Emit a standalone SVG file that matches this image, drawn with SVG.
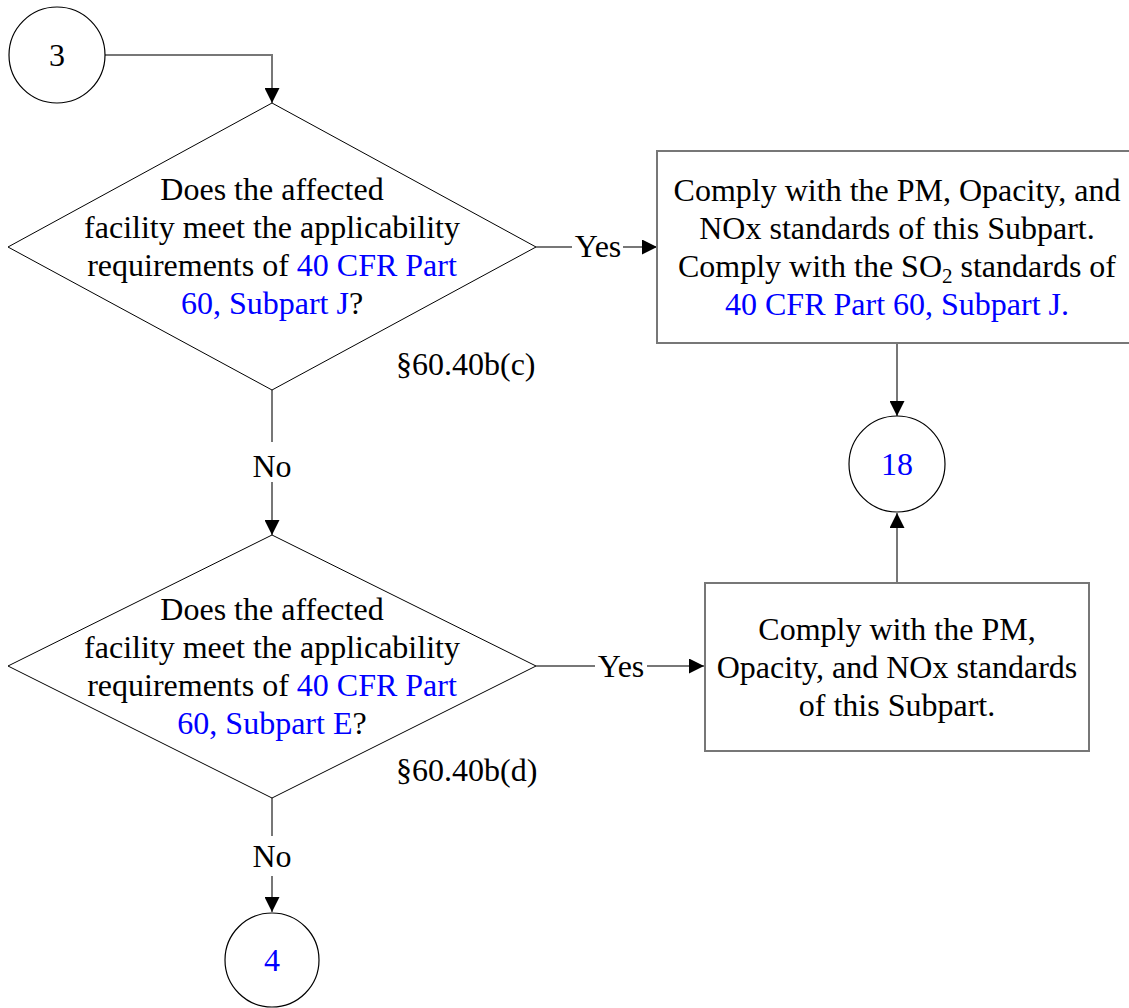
<svg xmlns="http://www.w3.org/2000/svg" width="1129" height="1008" viewBox="0 0 1129 1008">
<style>
text{font-family:"Liberation Serif","Times New Roman",serif;font-size:32px;fill:#000;text-anchor:middle}
.l{fill:#0000FF}
.s{text-anchor:start}
.dia{fill:#fff;stroke:#000;stroke-width:1}
.cir{fill:#fff;stroke:#000;stroke-width:1.2}
.box{fill:#fff;stroke:#777;stroke-width:2}
.con{fill:none;stroke:#777;stroke-width:2}
</style>
<defs>
<marker id="ah" viewBox="0 0 15 15" refX="15" refY="7.5" markerWidth="15" markerHeight="15" markerUnits="userSpaceOnUse" orient="auto">
<path d="M0,0 L15,7.5 L0,15 z" fill="#000"/>
</marker>
</defs>
<rect width="1129" height="1008" fill="#fff"/>
<g id="connectors">
<path class="con" d="M105,55 H272 V103" marker-end="url(#ah)"/>
<path class="con" d="M536,247 H572"/>
<path class="con" d="M623,247 H657" marker-end="url(#ah)"/>
<path class="con" d="M897,343 V416" marker-end="url(#ah)"/>
<path class="con" d="M272,390 V442"/>
<path class="con" d="M272,482 V535" marker-end="url(#ah)"/>
<path class="con" d="M536,666 H595"/>
<path class="con" d="M647,666 H704" marker-end="url(#ah)"/>
<path class="con" d="M897,583 V513" marker-end="url(#ah)"/>
<path class="con" d="M272,798 V836"/>
<path class="con" d="M272,876 V912" marker-end="url(#ah)"/>
<text x="598" y="257">Yes</text>
<text x="621" y="677">Yes</text>
<text x="272" y="477">No</text>
<text x="272" y="867">No</text>
</g>
<g id="node3">
<circle class="cir" cx="57" cy="55" r="48"/>
<text x="57" y="66">3</text>
</g>
<g id="decision1">
<polygon class="dia" points="272,103 536,247 272,390 8,247"/>
<text x="272" y="200">Does the affected</text>
<text x="272" y="238">facility meet the applicability</text>
<text x="272" y="276">requirements of <tspan class="l">40 CFR Part</tspan></text>
<text x="272" y="314"><tspan class="l">60, Subpart J</tspan>?</text>
<text class="s" x="396" y="375">§60.40b(c)</text>
</g>
<g id="box1">
<rect class="box" x="657" y="151" width="480" height="192"/>
<text x="897" y="201">Comply with the PM, Opacity, and</text>
<text x="897" y="239">NOx standards of this Subpart.</text>
<text x="897" y="277">Comply with the SO<tspan font-size="21" dy="6">2</tspan><tspan dy="-6"> standards of</tspan></text>
<text class="l" x="897" y="315">40 CFR Part 60, Subpart J.</text>
</g>
<g id="node18">
<circle class="cir" cx="897" cy="464" r="48"/>
<text class="l" x="897" y="475">18</text>
</g>
<g id="decision2">
<polygon class="dia" points="272,535 536,666 272,798 8,666"/>
<text x="272" y="620">Does the affected</text>
<text x="272" y="658">facility meet the applicability</text>
<text x="272" y="696">requirements of <tspan class="l">40 CFR Part</tspan></text>
<text x="272" y="734"><tspan class="l">60, Subpart E</tspan>?</text>
<text class="s" x="396" y="781">§60.40b(d)</text>
</g>
<g id="box2">
<rect class="box" x="705" y="583" width="384" height="168"/>
<text x="897" y="640">Comply with the PM,</text>
<text x="897" y="678">Opacity, and NOx standards</text>
<text x="897" y="716">of this Subpart.</text>
</g>
<g id="node4">
<circle class="cir" cx="272" cy="960" r="47"/>
<text class="l" x="272" y="971">4</text>
</g>
</svg>
